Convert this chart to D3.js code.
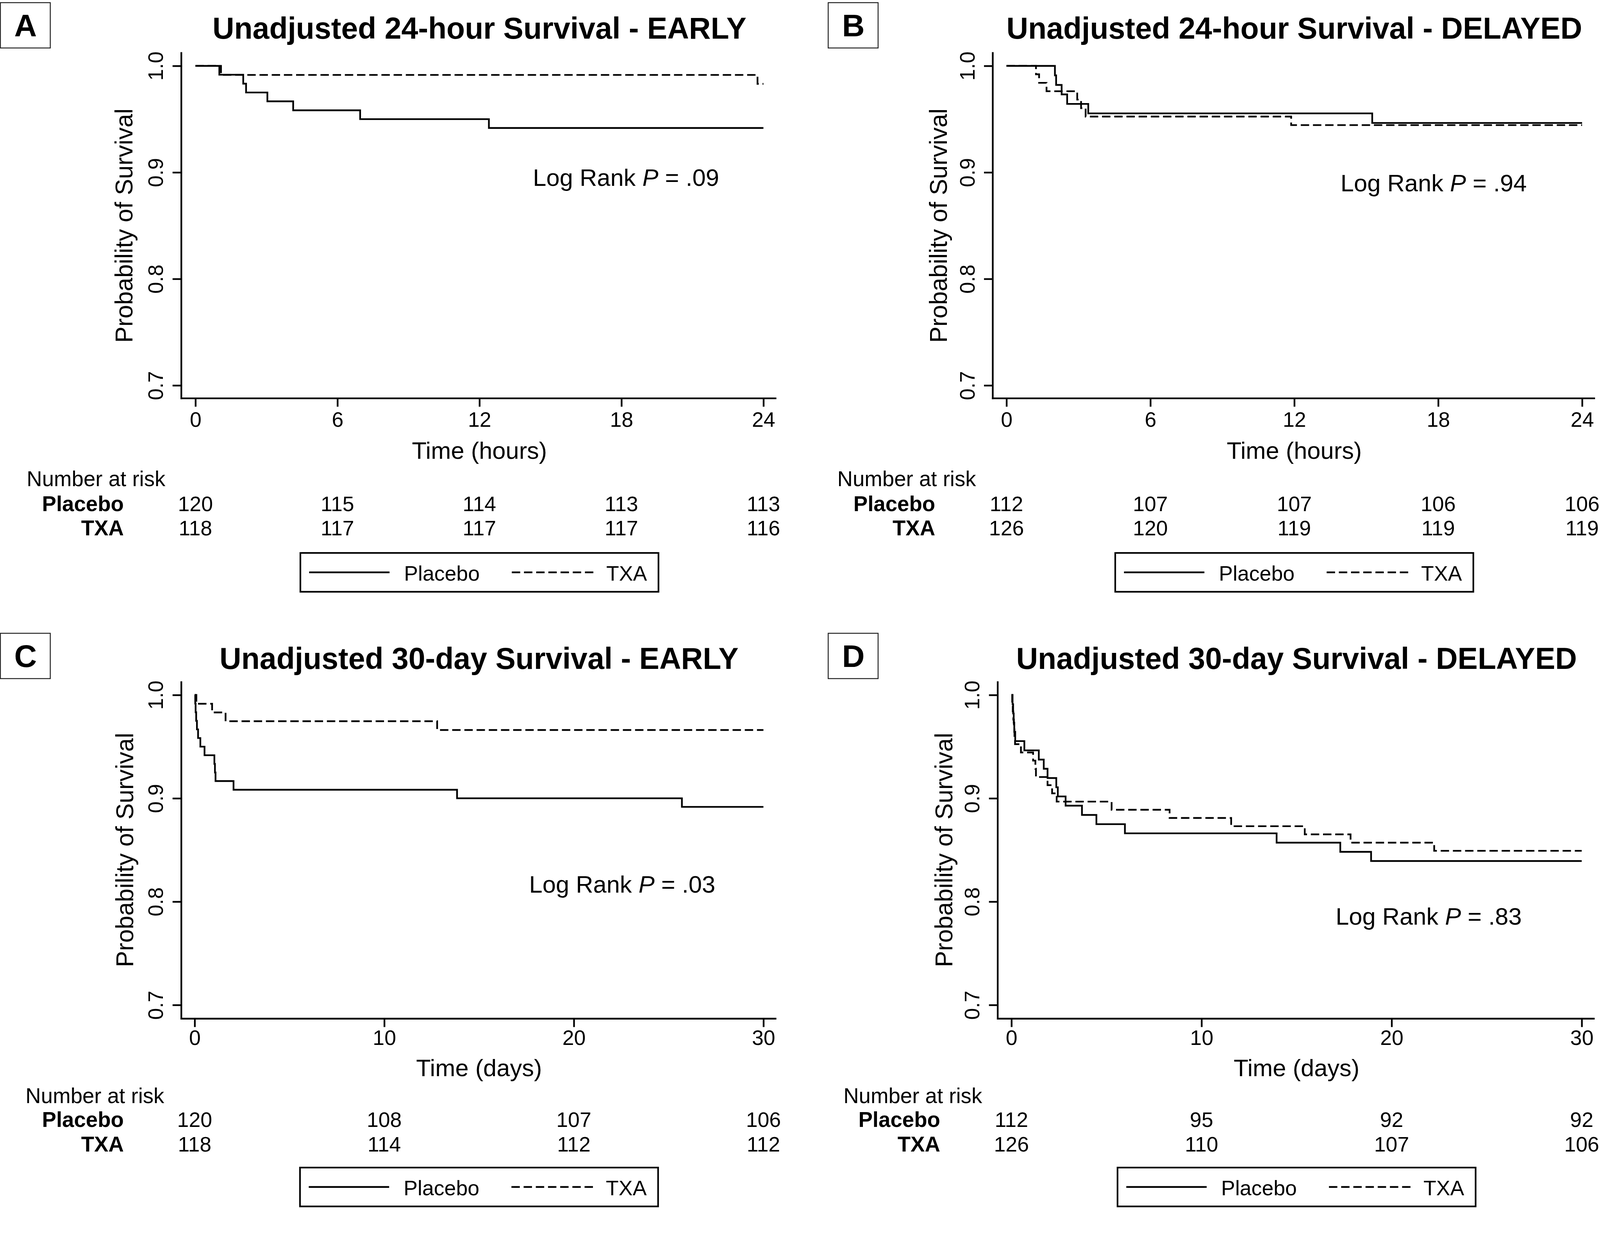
<!DOCTYPE html>
<html>
<head>
<meta charset="utf-8">
<script src="https://cdn.jsdelivr.net/npm/d3@7"></script>
<style>
  html, body { margin: 0; padding: 0; background: #fff; overflow: hidden; }
  svg { display: block; width: 100vw; height: 100vh; }
  text { font-family: "Liberation Sans", Arial, Helvetica, sans-serif; fill: #000; }
</style>
</head>
<body>
<div id="chart"></div>
<script>
// ---- data ----
const letters = ["A", "B", "C", "D"];
const titles = [
  "Unadjusted 24-hour Survival - EARLY",
  "Unadjusted 24-hour Survival - DELAYED",
  "Unadjusted 30-day Survival - EARLY",
  "Unadjusted 30-day Survival - DELAYED"
];
const pValues = [".09", ".94", ".03", ".83"];
const seriesNames = ["Placebo", "TXA"];
const xTicksHours = [0, 6, 12, 18, 24];
const xTicksDays = [0, 10, 20, 30];
const yTicks = [0.7, 0.8, 0.9, 1.0];

// step drops: [time, survival after the drop]
const earlyHoursPlacebo = [[1.01, 0.9917], [2.02, 0.9833], [2.14, 0.9750], [3.04, 0.9667], [4.13, 0.9583], [6.96, 0.9500], [12.4, 0.9417]];
const earlyHoursTXA = [[1.08, 0.9915], [23.75, 0.9831]];
const delayedHoursPlacebo = [[2.02, 0.9911], [2.07, 0.9821], [2.30, 0.9732], [2.53, 0.9643], [3.41, 0.9554], [15.25, 0.9464]];
const delayedHoursTXA = [[1.23, 0.9921], [1.36, 0.9841], [1.67, 0.9762], [2.95, 0.9683], [3.11, 0.9603], [3.30, 0.9524], [11.87, 0.9444]];
const earlyDaysPlacebo = [[0.03, 0.9917], [0.05, 0.9833], [0.08, 0.9750], [0.12, 0.9667], [0.18, 0.9583], [0.30, 0.9500], [0.52, 0.9417],
  [1.04, 0.9333], [1.07, 0.9250], [1.10, 0.9167], [2.05, 0.9083], [13.84, 0.9000], [25.7, 0.8917]];
const earlyDaysTXA = [[0.09, 0.9915], [0.92, 0.9831], [1.63, 0.9746], [12.79, 0.9661]];
const delayedDaysPlacebo = [[0.06, 0.9911], [0.09, 0.9821], [0.12, 0.9732], [0.15, 0.9643], [0.20, 0.9554], [0.68, 0.9464], [1.44, 0.9375],
  [1.70, 0.9286], [1.90, 0.9196], [2.36, 0.9107], [2.44, 0.9018], [2.85, 0.8929], [3.71, 0.8839], [4.47, 0.8750], [5.97, 0.8661],
  [13.95, 0.8571], [17.3, 0.8482], [18.92, 0.8393]];
const delayedDaysTXA = [[0.04, 0.9921], [0.07, 0.9841], [0.10, 0.9762], [0.13, 0.9683], [0.16, 0.9603], [0.19, 0.9524], [0.50, 0.9444],
  [1.14, 0.9365], [1.26, 0.9286], [1.29, 0.9206], [1.90, 0.9127], [2.14, 0.9048], [2.38, 0.8968], [5.27, 0.8889], [8.32, 0.8810],
  [11.56, 0.8730], [15.43, 0.8651], [17.84, 0.8571], [22.24, 0.8492]];

// number at risk at each x tick
const riskEarlyHoursPlacebo = [120, 115, 114, 113, 113];
const riskEarlyHoursTXA = [118, 117, 117, 117, 116];
const riskDelayedHoursPlacebo = [112, 107, 107, 106, 106];
const riskDelayedHoursTXA = [126, 120, 119, 119, 119];
const riskEarlyDaysPlacebo = [120, 108, 107, 106];
const riskEarlyDaysTXA = [118, 114, 112, 112];
const riskDelayedDaysPlacebo = [112, 95, 92, 92];
const riskDelayedDaysTXA = [126, 110, 107, 106];

// ---- layout (pixels) ----
const topRow = { y10: 173, y07: 1012, axisY: 1046, tickY: 1121, xTitleY: 1205, narY: 1277, row1Y: 1342, row2Y: 1406, legY: 1452, titleY: 102, boxY: 7 };
const bottomRow = { y10: 1825, y07: 2639, axisY: 2675, tickY: 2744, xTitleY: 2826, narY: 2897, row1Y: 2959, row2Y: 3024, legY: 3066, titleY: 1757, boxY: 1663 };

const panels = [
  Object.assign({}, topRow, { i: 0, x0: 513, x1: 2004, axisX: 476, yLabX: 348, narX: 70, labR: 325, boxX: 1, lrX: 1399, lrY: 488,
    ticks: xTicksHours, unit: "Time (hours)", curves: [earlyHoursPlacebo, earlyHoursTXA], risk: [riskEarlyHoursPlacebo, riskEarlyHoursTXA] }),
  Object.assign({}, topRow, { i: 1, x0: 2642, x1: 4153, axisX: 2606, yLabX: 2486, narX: 2198, labR: 2455, boxX: 2174, lrX: 3519, lrY: 502,
    ticks: xTicksHours, unit: "Time (hours)", curves: [delayedHoursPlacebo, delayedHoursTXA], risk: [riskDelayedHoursPlacebo, riskDelayedHoursTXA] }),
  Object.assign({}, bottomRow, { i: 2, x0: 511, x1: 2004, axisX: 476, yLabX: 350, narX: 67, labR: 325, boxX: 1, lrX: 1389, lrY: 2344,
    ticks: xTicksDays, unit: "Time (days)", curves: [earlyDaysPlacebo, earlyDaysTXA], risk: [riskEarlyDaysPlacebo, riskEarlyDaysTXA] }),
  Object.assign({}, bottomRow, { i: 3, x0: 2655, x1: 4152, axisX: 2619, yLabX: 2500, narX: 2214, labR: 2468, boxX: 2174, lrX: 3506, lrY: 2428,
    ticks: xTicksDays, unit: "Time (days)", curves: [delayedDaysPlacebo, delayedDaysTXA], risk: [riskDelayedDaysPlacebo, riskDelayedDaysTXA] })
];

const dash = "22,10";
const lw = 4.5;

const svg = d3.select("#chart").append("svg")
  .attr("viewBox", "0 0 4200 3173")
  .attr("preserveAspectRatio", "xMidYMin meet");
svg.append("rect").attr("width", 4200).attr("height", 3173).attr("fill", "#fff");

panels.forEach(drawPanel);

function drawPanel(p) {
  const g = svg.append("g");
  const xMax = p.ticks[p.ticks.length - 1];
  const x = d3.scaleLinear().domain([0, xMax]).range([p.x0, p.x1]);
  const y = d3.scaleLinear().domain([0.7, 1.0]).range([p.y07, p.y10]);

  // panel letter box
  g.append("rect")
    .attr("x", p.boxX).attr("y", p.boxY)
    .attr("width", 131).attr("height", 119)
    .attr("fill", "none").attr("stroke", "#222").attr("stroke-width", 2.5);
  g.append("text")
    .attr("x", p.boxX + 66).attr("y", p.boxY + 88)
    .attr("text-anchor", "middle")
    .style("font-size", "82px").style("font-weight", "bold")
    .text(letters[p.i]);

  // title
  g.append("text")
    .attr("x", (p.x0 + p.x1) / 2).attr("y", p.titleY)
    .attr("text-anchor", "middle")
    .style("font-size", "79px").style("font-weight", "bold")
    .text(titles[p.i]);

  // y axis
  const yAxis = g.append("g")
    .attr("transform", `translate(${p.axisX},0)`)
    .call(d3.axisLeft(y).tickValues(yTicks).tickSize(23).tickFormat(d3.format(".1f")));
  yAxis.select(".domain").remove();
  yAxis.selectAll("line").attr("stroke", "#000").attr("stroke-width", lw);
  yAxis.selectAll("text")
    .attr("x", null).attr("dy", null)
    .attr("text-anchor", "middle")
    .attr("transform", "translate(-48,0) rotate(-90)")
    .attr("fill", "#000")
    .style("font-size", "55px");
  yAxis.attr("font-family", null).attr("font-size", null);
  g.append("line")
    .attr("x1", p.axisX).attr("x2", p.axisX)
    .attr("y1", p.y10 - 36).attr("y2", p.axisY + lw / 2)
    .attr("stroke", "#000").attr("stroke-width", lw);

  // x axis
  const xAxis = g.append("g")
    .attr("transform", `translate(0,${p.axisY})`)
    .call(d3.axisBottom(x).tickValues(p.ticks).tickSize(22).tickFormat(d3.format("d")));
  xAxis.select(".domain").remove();
  xAxis.selectAll("line").attr("stroke", "#000").attr("stroke-width", lw);
  xAxis.selectAll("text")
    .attr("y", p.tickY - p.axisY).attr("dy", null)
    .attr("fill", "#000")
    .style("font-size", "55px");
  xAxis.attr("font-family", null).attr("font-size", null);
  g.append("line")
    .attr("x1", p.axisX - lw / 2).attr("x2", p.x1 + 34)
    .attr("y1", p.axisY).attr("y2", p.axisY)
    .attr("stroke", "#000").attr("stroke-width", lw);

  // axis titles
  g.append("text")
    .attr("transform", `translate(${p.yLabX},${(p.y10 + p.y07) / 2}) rotate(-90)`)
    .attr("text-anchor", "middle")
    .style("font-size", "64px")
    .text("Probability of Survival");
  g.append("text")
    .attr("x", (p.x0 + p.x1) / 2).attr("y", p.xTitleY)
    .attr("text-anchor", "middle")
    .style("font-size", "63px")
    .text(p.unit);

  // survival curves
  const line = d3.line()
    .x(d => x(d[0]))
    .y(d => y(d[1]))
    .curve(d3.curveStepAfter);
  p.curves.forEach((drops, k) => {
    const pts = [[0, 1.0]].concat(drops);
    pts.push([xMax, drops[drops.length - 1][1]]);
    g.append("path")
      .datum(pts)
      .attr("d", line)
      .attr("fill", "none")
      .attr("stroke", "#000")
      .attr("stroke-width", lw)
      .attr("stroke-dasharray", k === 1 ? dash : null);
  });

  // log rank annotation
  const lr = g.append("text")
    .attr("x", p.lrX).attr("y", p.lrY)
    .style("font-size", "63px")
    .style("white-space", "pre");
  lr.append("tspan").text("Log Rank ");
  lr.append("tspan").style("font-style", "italic").text("P");
  lr.append("tspan").text(" = " + pValues[p.i]);

  // number at risk table
  g.append("text")
    .attr("x", p.narX).attr("y", p.narY)
    .style("font-size", "56px")
    .text("Number at risk");
  [p.row1Y, p.row2Y].forEach((ry, k) => {
    g.append("text")
      .attr("x", p.labR).attr("y", ry)
      .attr("text-anchor", "end")
      .style("font-size", "56px").style("font-weight", "bold")
      .text(seriesNames[k]);
    g.selectAll(null)
      .data(p.ticks)
      .enter().append("text")
      .attr("x", d => x(d)).attr("y", ry)
      .attr("text-anchor", "middle")
      .style("font-size", "55px")
      .text((d, j) => p.risk[k][j]);
  });

  // legend
  const lwBox = 940, lhBox = 102;
  const lx = (p.x0 + p.x1) / 2 - lwBox / 2;
  const leg = g.append("g").attr("transform", `translate(${lx},${p.legY})`);
  leg.append("rect")
    .attr("width", lwBox).attr("height", lhBox)
    .attr("fill", "none").attr("stroke", "#000").attr("stroke-width", 4.3);
  leg.append("line")
    .attr("x1", 23).attr("x2", 234).attr("y1", 51).attr("y2", 51)
    .attr("stroke", "#000").attr("stroke-width", lw);
  leg.append("text").attr("x", 272).attr("y", 73).style("font-size", "55px").text(seriesNames[0]);
  leg.append("line")
    .attr("x1", 555).attr("x2", 772).attr("y1", 51).attr("y2", 51)
    .attr("stroke", "#000").attr("stroke-width", lw)
    .attr("stroke-dasharray", dash);
  leg.append("text").attr("x", 803).attr("y", 73).style("font-size", "55px").text(seriesNames[1]);
}
</script>
</body>
</html>
